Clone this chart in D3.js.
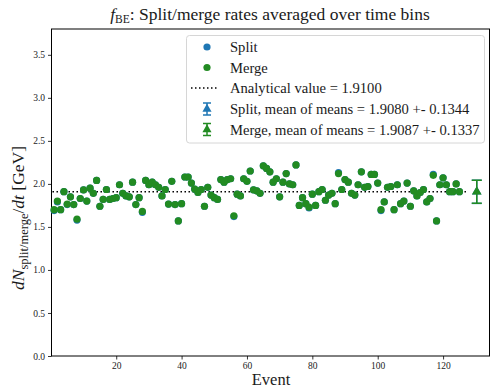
<!DOCTYPE html>
<html>
<head>
<meta charset="utf-8">
<script src="https://cdn.jsdelivr.net/npm/d3@7"></script>
<style>
  html, body { margin: 0; padding: 0; background: #fff; }
  svg { display: block; font-family: "Liberation Serif", "DejaVu Serif", serif; }
</style>
</head>
<body>
<svg id="chart" width="490" height="390"></svg>
<script>
// Per-event rates (event index 1..125)
const events = d3.range(1, 126);
const mergeRates = [
  1.70, 1.80, 1.70, 1.91, 1.765, 1.85, 1.76, 1.59, 1.83, 1.93,
  1.80, 1.95, 1.89, 2.04, 1.74, 1.82, 1.935, 1.82, 1.83, 1.84,
  1.99, 1.89, 1.86, 1.85, 2.02, 1.76, 1.84, 1.68, 2.04, 1.99,
  2.02, 1.99, 1.96, 1.86, 1.935, 1.765, 2.03, 1.76, 1.57, 1.77,
  2.08, 2.08, 2.01, 1.94, 1.90, 1.935, 1.74, 1.96, 1.87, 1.84,
  1.82, 2.05, 2.02, 2.05, 2.06, 1.63, 1.88, 1.86, 2.06, 2.03,
  2.15, 1.93, 1.92, 1.89, 2.21, 2.18, 2.14, 2.02, 2.06, 1.85,
  2.02, 2.12, 2.00, 1.99, 2.22, 1.75, 1.84, 1.77, 1.73, 1.88,
  1.75, 1.91, 1.935, 1.81, 1.87, 1.89, 1.77, 2.12, 1.935, 2.05,
  2.02, 1.89, 1.87, 1.99, 2.14, 1.96, 1.97, 2.11, 2.11, 2.01,
  1.70, 1.79, 1.96, 1.97, 1.70, 1.99, 1.77, 1.80, 2.01, 1.74,
  1.92, 1.86, 1.90, 1.935, 1.79, 1.83, 2.10, 1.57, 1.99, 2.07,
  1.99, 1.91, 1.91, 2.00, 1.91
];
const splitRates = [
  1.69, 1.79, 1.70, 1.91, 1.76, 1.85, 1.76, 1.58, 1.83, 1.93,
  1.80, 1.95, 1.89, 2.04, 1.74, 1.82, 1.935, 1.82, 1.83, 1.84,
  1.99, 1.89, 1.86, 1.85, 2.02, 1.76, 1.84, 1.67, 2.04, 1.99,
  2.02, 1.99, 1.96, 1.86, 1.935, 1.765, 2.03, 1.76, 1.57, 1.77,
  2.08, 2.08, 2.01, 1.94, 1.90, 1.935, 1.74, 1.96, 1.87, 1.84,
  1.82, 2.05, 2.02, 2.05, 2.06, 1.62, 1.88, 1.86, 2.06, 2.03,
  2.15, 1.93, 1.92, 1.89, 2.21, 2.18, 2.14, 2.02, 2.06, 1.85,
  2.02, 2.12, 2.00, 1.99, 2.22, 1.75, 1.84, 1.77, 1.72, 1.88,
  1.75, 1.91, 1.935, 1.81, 1.87, 1.89, 1.77, 2.13, 1.935, 2.05,
  2.02, 1.89, 1.87, 1.99, 2.14, 1.96, 1.97, 2.11, 2.11, 2.01,
  1.69, 1.79, 1.96, 1.97, 1.70, 1.99, 1.77, 1.80, 2.01, 1.74,
  1.92, 1.86, 1.90, 1.935, 1.79, 1.83, 2.11, 1.57, 1.99, 2.07,
  1.99, 1.91, 1.91, 2.00, 1.91
];

// Reference value and summary statistics
const analyticalValue = 1.9100;
const summaryX = 130.3;
const splitMean = 1.9080, splitErr = 0.1344;
const mergeMean = 1.9087, mergeErr = 0.1337;

const xTicks = [20, 40, 60, 80, 100, 120];
const yTicks = [0.0, 0.5, 1.0, 1.5, 2.0, 2.5, 3.0, 3.5];

const legendLabels = [
  "Split",
  "Merge",
  "Analytical value = 1.9100",
  "Split, mean of means = 1.9080 +- 0.1344",
  "Merge, mean of means = 1.9087 +- 0.1337"
];

const blue = "#1f77b4";
const green = "#228b22";

const svg = d3.select("#chart");
const plotLeft = 51.5, plotRight = 489.5, plotTop = 29, plotBottom = 356;

const x = d3.scaleLinear().domain([0.2, 134.2]).range([plotLeft, plotRight]);
const y = d3.scaleLinear().domain([0, 3.8]).range([plotBottom, plotTop]);

// Axes
const xAxis = d3.axisBottom(x).tickValues(xTicks).tickSize(3.5).tickSizeOuter(0).tickPadding(3);
const yAxis = d3.axisLeft(y).tickValues(yTicks).tickSize(3.5).tickSizeOuter(0).tickPadding(3)
  .tickFormat(d3.format(".1f"));

const gx = svg.append("g").attr("transform", `translate(0,${plotBottom})`).call(xAxis);
const gy = svg.append("g").attr("transform", `translate(${plotLeft},0)`).call(yAxis);
[gx, gy].forEach(g => {
  g.select(".domain").remove();
  g.selectAll("line").attr("stroke", "#000").attr("stroke-width", 0.8);
  g.selectAll("text").attr("font-size", 9.5).attr("fill", "#222")
    .attr("font-family", "Liberation Serif, serif");
});

// Frame
svg.append("rect")
  .attr("x", plotLeft).attr("y", plotTop)
  .attr("width", plotRight - plotLeft).attr("height", plotBottom - plotTop)
  .attr("fill", "none").attr("stroke", "#000").attr("stroke-width", 1);

// Analytical value line
svg.append("line")
  .attr("x1", x(0.5)).attr("x2", x(127))
  .attr("y1", y(analyticalValue)).attr("y2", y(analyticalValue))
  .attr("stroke", "#000").attr("stroke-width", 1.5)
  .attr("stroke-dasharray", "1.5,2.5");

// Scatter points: split under merge
svg.append("g").selectAll("circle").data(events).join("circle")
  .attr("cx", (d) => x(d)).attr("cy", (d, i) => y(splitRates[i]))
  .attr("r", 3.6).attr("fill", blue);
svg.append("g").selectAll("circle").data(events).join("circle")
  .attr("cx", (d) => x(d)).attr("cy", (d, i) => y(mergeRates[i]))
  .attr("r", 3.6).attr("fill", green);

// Error bar with triangle marker
function errorBar(g, cx, cy, halfLen, cap, color, triSize) {
  g.append("line").attr("x1", cx).attr("x2", cx)
    .attr("y1", cy - halfLen).attr("y2", cy + halfLen)
    .attr("stroke", color).attr("stroke-width", 1.5);
  [cy - halfLen, cy + halfLen].forEach(yy => {
    g.append("line").attr("x1", cx - cap).attr("x2", cx + cap)
      .attr("y1", yy).attr("y2", yy)
      .attr("stroke", color).attr("stroke-width", 1.5);
  });
  g.append("path")
    .attr("d", d3.symbol().type(d3.symbolTriangle).size(triSize)())
    .attr("transform", `translate(${cx},${cy})`)
    .attr("fill", color);
}
const eg = svg.append("g");
errorBar(eg, x(summaryX), y(splitMean), y(splitMean - splitErr) - y(splitMean), 5, blue, 40);
errorBar(eg, x(summaryX), y(mergeMean), y(mergeMean - mergeErr) - y(mergeMean), 5, green, 40);

// Legend
const lg = svg.append("g");
lg.append("rect")
  .attr("x", 186.5).attr("y", 35.5).attr("width", 298).attr("height", 107.5)
  .attr("rx", 3).attr("fill", "rgba(255,255,255,0.85)")
  .attr("stroke", "#d6d6d6").attr("stroke-width", 1);
const rowY = [47, 67.5, 88, 109, 129.5];
lg.append("circle").attr("cx", 207).attr("cy", rowY[0]).attr("r", 3.6).attr("fill", blue);
lg.append("circle").attr("cx", 207).attr("cy", rowY[1]).attr("r", 3.6).attr("fill", green);
lg.append("line").attr("x1", 191).attr("x2", 219).attr("y1", rowY[2]).attr("y2", rowY[2])
  .attr("stroke", "#000").attr("stroke-width", 1.5).attr("stroke-dasharray", "1.5,2.5");
errorBar(lg, 207, rowY[3], 6, 4, blue, 36);
errorBar(lg, 207, rowY[4], 6, 4, green, 36);
lg.selectAll("text.lab").data(legendLabels).join("text")
  .attr("class", "lab")
  .attr("x", 230).attr("y", (d, i) => rowY[i] + 5)
  .attr("font-size", 14.6).attr("fill", "#1a1a1a")
  .text(d => d);

// Title
const title = svg.append("text").attr("x", 270).attr("y", 20)
  .attr("text-anchor", "middle").attr("font-size", 17.5).attr("fill", "#1a1a1a");
title.append("tspan").attr("font-style", "italic").text("f");
title.append("tspan").attr("font-size", 11.5).attr("dy", 3).text("BE");
title.append("tspan").attr("dy", -3).text(": Split/merge rates averaged over time bins");

// X label
svg.append("text").attr("x", 271).attr("y", 385)
  .attr("text-anchor", "middle").attr("font-size", 16.5).attr("fill", "#1a1a1a")
  .text("Event");

// Y label
const ylab = svg.append("text")
  .attr("transform", "translate(24,218) rotate(-90)")
  .attr("text-anchor", "middle").attr("font-size", 17.5).attr("fill", "#1a1a1a");
ylab.append("tspan").attr("font-style", "italic").text("dN");
ylab.append("tspan").attr("font-size", 12.5).attr("dy", 4).text("split/merge");
ylab.append("tspan").attr("dy", -4).text("/");
ylab.append("tspan").attr("font-style", "italic").text("dt");
ylab.append("tspan").text(" [GeV]");
</script>
</body>
</html>
